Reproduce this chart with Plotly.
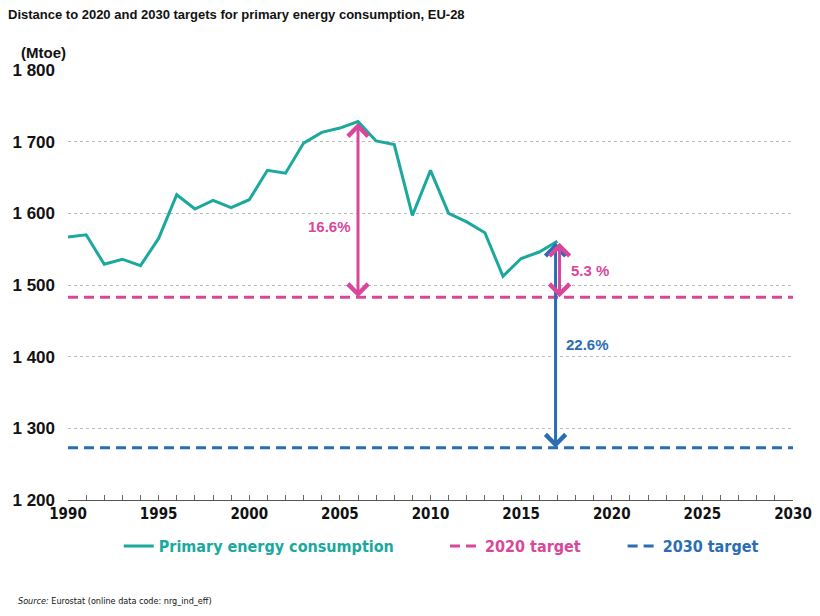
import plotly.graph_objects as go

years = list(range(1990, 2018))
consumption = [1567, 1570, 1529, 1536, 1527, 1565, 1626, 1606, 1618, 1608,
               1619, 1660, 1656, 1698, 1713, 1719, 1728, 1701, 1696, 1597,
               1660, 1600, 1588, 1573, 1512, 1537, 1546, 1561]
target_years = [1990, 2030]
target_2020 = 1483
target_2030 = 1273
gap_labels = ["16.6%", "5.3 %", "22.6%"]
peak_year = 2006
last_year = 2017

TEAL = "#1BA89D"
MAGENTA = "#D9479B"
BLUE = "#2B6DB3"
FONT = "Liberation Sans, Arial, sans-serif"
NARROW = "DejaVu Sans Condensed, Liberation Sans Narrow, Arial Narrow, Liberation Sans, sans-serif"

fig = go.Figure()
fig.add_trace(go.Scatter(
    x=years, y=consumption, mode="lines",
    line=dict(color=TEAL, width=3),
    name=f"<span style='color:{TEAL}'>Primary energy consumption</span>",
    legend="legend", showlegend=True))
fig.add_trace(go.Scatter(
    x=target_years, y=[target_2020] * 2, mode="lines",
    line=dict(color=MAGENTA, width=3, dash="10px,6px"),
    name=f"<span style='color:{MAGENTA}'>2020 target</span>",
    legend="legend2", showlegend=True))
fig.add_trace(go.Scatter(
    x=target_years, y=[target_2030] * 2, mode="lines",
    line=dict(color=BLUE, width=3, dash="10px,6px"),
    name=f"<span style='color:{BLUE}'>2030 target</span>",
    legend="legend3", showlegend=True))

peak_val = consumption[years.index(peak_year)]
last_val = consumption[years.index(last_year)]

def arrow(x, y0, y1, color):
    return dict(x=x, y=y1, ax=x, ay=y0, xref="x", yref="y", axref="x", ayref="y",
                text="", showarrow=True, arrowhead=4, arrowside="end+start",
                arrowsize=1.3, arrowwidth=3, arrowcolor=color,
                standoff=0, startstandoff=0)

annotations = [
    arrow(last_year - 0.1, last_val, target_2030, BLUE),
    arrow(peak_year, peak_val, target_2020, MAGENTA),
    arrow(last_year + 0.12, last_val, target_2020, MAGENTA),
    dict(x=peak_year, y=(peak_val + target_2020) / 2 - 24, xref="x", yref="y",
         text=gap_labels[0], showarrow=False, xanchor="right", xshift=-5,
         font=dict(color=MAGENTA, size=15, family=FONT, weight="bold")),
    dict(x=last_year, y=(last_val + target_2020) / 2 - 2, xref="x", yref="y",
         text=gap_labels[1], showarrow=False, xanchor="left", xshift=12,
         font=dict(color=MAGENTA, size=15, family=FONT, weight="bold")),
    dict(x=last_year, y=(last_val + target_2030) / 2, xref="x", yref="y",
         text=gap_labels[2], showarrow=False, xanchor="left", xshift=7,
         font=dict(color=BLUE, size=15, family=FONT, weight="bold")),
    dict(x=-0.068, y=1.04, xref="paper", yref="paper", text="(Mtoe)",
         showarrow=False, xanchor="left", yanchor="middle",
         font=dict(size=15, family=FONT, weight="bold", color="#111")),
    dict(x=-0.072, y=-0.234, xref="paper", yref="paper",
         text="<i>Source:</i> Eurostat (online data code: nrg_ind_eff)",
         showarrow=False, xanchor="left", yanchor="middle",
         font=dict(size=9, family=NARROW, color="#111")),
]

legend_common = dict(orientation="h", yanchor="middle", y=-0.107, xanchor="left",
                     bgcolor="rgba(0,0,0,0)", itemwidth=30,
                     font=dict(size=16, family=NARROW, weight="bold"))

fig.update_layout(
    width=804, height=600,
    margin=dict(l=60, r=19, t=62, b=108, autoexpand=False),
    paper_bgcolor="white", plot_bgcolor="white",
    separators=". ",
    showlegend=True,
    title=dict(text="Distance to 2020 and 2030 targets for primary energy consumption, EU-28",
               x=0, xanchor="left", y=0.99, yanchor="middle",
               font=dict(size=13, family=FONT, weight="bold", color="#111")),
    xaxis=dict(range=[1990, 2030], dtick=5, tick0=1990, ticks="inside", ticklen=5,
               tickcolor="#666", showline=True, linecolor="#555", linewidth=1,
               showgrid=False, zeroline=False, automargin=False,
               ticklabeloverflow="allow",
               minor=dict(ticks="inside", dtick=1, ticklen=5, tickcolor="#666"),
               tickfont=dict(size=15, family=NARROW, weight="bold", color="#111")),
    yaxis=dict(range=[1200, 1800], dtick=100, tickformat=",d", ticks="",
               showgrid=True, gridcolor="#BBBBBB", griddash="dot", gridwidth=1,
               zeroline=False, showline=False, ticklabelstandoff=12, automargin=False,
               tickfont=dict(size=17, family=FONT, weight="bold", color="#111")),
    legend=dict(legend_common, x=0.07),
    legend2=dict(legend_common, x=0.52),
    legend3=dict(legend_common, x=0.765),
    annotations=annotations,
)

fig.write_html("out.html")
